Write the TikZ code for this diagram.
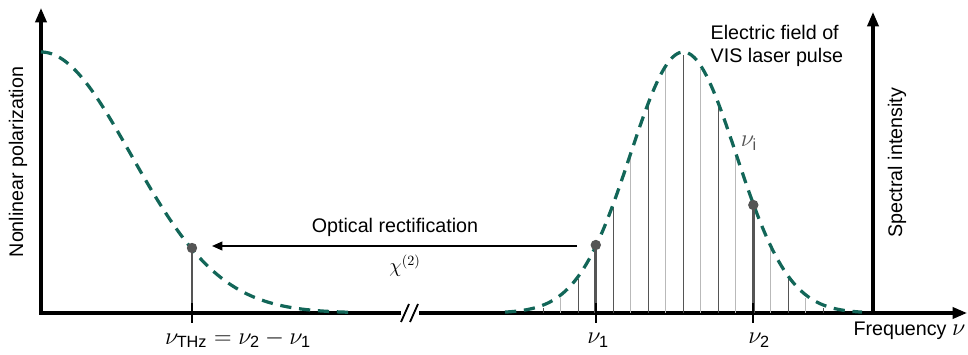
\documentclass[tikz,border=0pt]{standalone}
\usepackage{amsmath}
\usepackage{fontspec}
\setmainfont{Liberation Sans}
\usepackage{tikz}
\usetikzlibrary{arrows.meta,positioning}
\definecolor{fieldteal}{RGB}{18,102,88}
\definecolor{stemgray}{RGB}{85,85,85}
\newcommand{\sub}[1]{\textrm{#1}}

\begin{document}
\begin{tikzpicture}[x=0.025cm, y=0.025cm,
    axis/.style={line width=2.2pt, -{Triangle[length=3.6mm,width=2.8mm]}},
    field/.style={fieldteal, line width=2.3pt, dash pattern=on 8pt off 5.5pt, smooth, samples=120},
    combdark/.style={stemgray, line width=0.6pt},
    comblight/.style={gray!55, line width=0.6pt},
    stem/.style={stemgray, line width=2.1pt},
    dot/.style={circle, fill=stemgray, inner sep=0pt, minimum size=0.26cm},
    tick/.style={line width=1.3pt},
    lbl/.style={font=\fontsize{14}{16.5}\selectfont, inner sep=1pt},
    mlbl/.style={font=\fontsize{16.5}{19}\selectfont, inner sep=1pt},
    arr/.style={line width=1.2pt, -{Triangle[length=2.6mm,width=2.2mm]}}
]
\useasboundingbox (0,-42) rectangle (968,313);
% axes
\coordinate (o) at (41,0);
\coordinate (ytop) at (41,305);
\coordinate (brkL) at (401,0);
\coordinate (brkR) at (419,0);
\coordinate (xend) at (967,0);
\coordinate (sbase) at (873,0);
\coordinate (stop) at (873,301);
\draw[axis] (brkL) -- (o) -- (ytop);
\draw[axis] (brkR) -- (xend);
\draw[axis] (sbase) -- (stop);
\draw[tick] (401,-9) -- (409,9);
\draw[tick] (410,-9) -- (418,9);

% spectral comb
\foreach \k in {-8,-6,...,8}
  \draw[combdark] (683.3+17.5*\k,0) -- ({683.3+17.5*\k},{261/exp(0.5*((17.5*\k)/53)^2)-3});
\foreach \k in {-7,-5,...,7}
  \draw[comblight] (683.3+17.5*\k,0) -- ({683.3+17.5*\k},{261/exp(0.5*((17.5*\k)/53)^2)-3});

% field envelopes
\draw[field] plot[domain=41:355] (\x,{261/exp(0.5*((\x-41)/90)^2)});
\draw[field] plot[domain=505:862] (\x,{261/exp(0.5*((\x-683.3)/53)^2)});

% probe frequencies
\coordinate (nuT) at (192,0);
\coordinate (nu1) at (595.8,0);
\coordinate (nu2) at (753.3,0);
\node[dot] (pT) at (192,65) {};
\node[dot] (p1) at (595.8,68) {};
\node[dot] (p2) at (753.3,108) {};
\draw[stem] (nuT) -- (pT.center);
\draw[stem] (nu1) -- (p1.center);
\draw[stem] (nu2) -- (p2.center);
\draw[tick] (192,-10) -- (192,10);
\draw[tick] (595.8,-10) -- (595.8,10);
\draw[tick] (753.3,-10) -- (753.3,10);

% rectification
\coordinate (arrS) at (577,67);
\coordinate (arrE) at (212,67);
\draw[arr] (arrS) -- (arrE);
\node[lbl] (optrect) at (395,86) {Optical rectification};
\node[lbl] (chi) at (405,47) {$\chi^{(2)}$};

% labels
\node[mlbl] (lnuT) at (238,-26) {$\nu_{\sub{THz}} = \nu_{\sub{2}} - \nu_{\sub{1}}$};
\node[mlbl] (lnu1) at (598,-27) {$\nu_{\sub{1}}$};
\node[mlbl] (lnu2) at (759,-27) {$\nu_{\sub{2}}$};
\node[mlbl, text=stemgray] (lnui) at (749,170) {$\nu_{\sub{i}}$};
\node[lbl, anchor=east] (freq) at (967,-18) {Frequency \fontsize{16.5}{19}\selectfont$\nu$};
\node[lbl, align=left, anchor=west] (efield) at (709,267) {Electric field of\\VIS laser pulse};
\node[lbl, rotate=90] (npol) at (18,151) {Nonlinear polarization};
\node[lbl, rotate=90] (sint) at (897,150) {Spectral intensity};
\end{tikzpicture}
\end{document}
